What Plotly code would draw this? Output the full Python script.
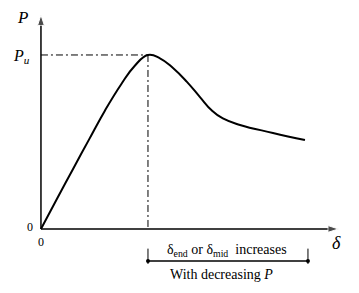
import plotly.graph_objects as go

# Load-deflection curve (delta normalised by delta at peak, P normalised by Pu)
delta = [0.0, 0.15, 0.30, 0.45, 0.60, 0.75, 0.875, 1.0, 1.112, 1.234, 1.362,
         1.486, 1.595, 1.700, 1.860, 2.168, 2.467]
load = [0.0, 0.174, 0.345, 0.515, 0.683, 0.832, 0.937, 1.0, 0.981, 0.925, 0.847,
        0.758, 0.682, 0.635, 0.598, 0.552, 0.511]

peak_delta = 1.0
peak_load = 1.0
axis_x_end = 2.78
axis_y_end = 1.23
bracket_start = 1.0
bracket_end = 2.495
bracket_level = -0.184

serif = "Liberation Serif"

fig = go.Figure()

# axes with arrow heads
fig.add_trace(go.Scatter(x=[0, axis_x_end], y=[0, 0], mode="lines+markers",
                         line=dict(color="black", width=1.5),
                         marker=dict(symbol="arrow", angleref="previous", size=[0, 11],
                                     color="black"),
                         hoverinfo="skip"))
fig.add_trace(go.Scatter(x=[0, 0], y=[0, axis_y_end], mode="lines+markers",
                         line=dict(color="black", width=1.5),
                         marker=dict(symbol="arrow", angleref="previous", size=[0, 11],
                                     color="black"),
                         hoverinfo="skip"))

# curve
fig.add_trace(go.Scatter(x=delta, y=load, mode="lines",
                         line=dict(color="black", width=2, shape="spline", smoothing=1.3),
                         hoverinfo="skip"))

# dash-dot guide lines
fig.add_trace(go.Scatter(x=[0, peak_delta], y=[peak_load, peak_load], mode="lines",
                         line=dict(color="black", width=1, dash="7px,3px,2px,3px"),
                         hoverinfo="skip"))
fig.add_trace(go.Scatter(x=[peak_delta, peak_delta], y=[peak_load, 0], mode="lines",
                         line=dict(color="black", width=1, dash="7px,3px,2px,3px"),
                         hoverinfo="skip"))

# bracket
fig.add_trace(go.Scatter(x=[bracket_start, bracket_end], y=[bracket_level, bracket_level],
                         mode="lines+markers", marker=dict(color="black", size=4),
                         line=dict(color="black", width=1.3), hoverinfo="skip"))
for bx in [bracket_start, bracket_end]:
    fig.add_trace(go.Scatter(x=[bx, bx], y=[-0.113, -0.201], mode="lines",
                             line=dict(color="black", width=1), hoverinfo="skip"))

annotations = [
    dict(x=-0.168, y=1.215, text="<i>P</i>", showarrow=False, font=dict(family=serif, size=17)),
    dict(x=-0.178, y=0.99, text="<i>P</i><sub><i>u</i></sub>", showarrow=False,
         font=dict(family=serif, size=16)),
    dict(x=2.766, y=-0.08, text="<i>δ</i>", showarrow=False, font=dict(family=serif, size=18)),
    dict(x=-0.10, y=0.012, text="0", showarrow=False, font=dict(family=serif, size=12)),
    dict(x=0.0, y=-0.075, text="0", showarrow=False, font=dict(family=serif, size=12)),
    dict(x=1.74, y=-0.126, text="δ<sub>end</sub> or δ<sub>mid</sub>  increases", showarrow=False,
         font=dict(family=serif, size=14)),
    dict(x=1.69, y=-0.259, text="With decreasing <i>P</i>", showarrow=False,
         font=dict(family=serif, size=14)),
]

fig.update_layout(
    width=351, height=285,
    margin=dict(l=0, r=0, t=0, b=0),
    paper_bgcolor="white", plot_bgcolor="white",
    font=dict(family=serif, color="black"),
    showlegend=False,
    xaxis=dict(range=[-0.308, 2.972], visible=False, fixedrange=True),
    yaxis=dict(range=[-0.368, 1.270], visible=False, fixedrange=True),
    annotations=annotations,
)

fig.write_html("out.html")
